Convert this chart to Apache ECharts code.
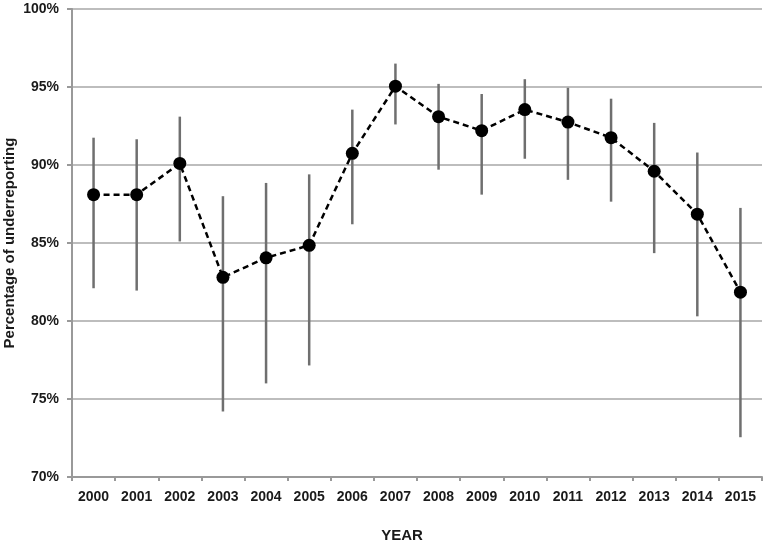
<!DOCTYPE html>
<html>
<head>
<meta charset="utf-8">
<script src="https://cdn.jsdelivr.net/npm/echarts@6/dist/echarts.min.js"></script>
<style>html,body{margin:0;padding:0;background:#fff}#c{width:767px;height:540px}</style>
</head>
<body>
<div id="c"></div>
<script>
var years = ['2000','2001','2002','2003','2004','2005','2006','2007','2008','2009','2010','2011','2012','2013','2014','2015'];
var values = [88.1, 88.1, 90.1, 82.8, 84.05, 84.85, 90.75, 95.05, 93.1, 92.2, 93.55, 92.75, 91.75, 89.6, 86.85, 81.85];
var upper = [91.75, 91.65, 93.1, 88.0, 88.85, 89.4, 93.55, 96.5, 95.2, 94.55, 95.5, 94.95, 94.25, 92.7, 90.8, 87.25];
var lower = [82.1, 81.95, 85.1, 74.2, 76.0, 77.15, 86.2, 92.6, 89.7, 88.1, 90.4, 89.05, 87.65, 84.35, 80.3, 72.55];
var yTicks = [70, 75, 80, 85, 90, 95, 100];

var FONT = '"Liberation Sans", Arial, Helvetica, sans-serif';
var chart = echarts.init(document.getElementById('c'));
var errData = years.map(function (y, i) { return [i, lower[i], upper[i]]; });

chart.setOption({
  animation: false,
  backgroundColor: '#ffffff',
  title: {
    text: 'YEAR',
    left: 397, top: 523, textAlign: 'center',
    textStyle: { fontFamily: FONT, fontSize: 15, fontWeight: 'bold', color: '#1a1a1a' }
  },
  grid: { left: 72, right: 5, top: 9, bottom: 63, containLabel: false, outerBoundsMode: 'none' },
  xAxis: {
    type: 'category',
    data: years,
    boundaryGap: true,
    axisLine: { lineStyle: { color: '#999', width: 2 } },
    axisTick: { show: true, length: 4, lineStyle: { color: '#999', width: 2 } },
    axisLabel: { margin: 13, fontFamily: FONT, fontSize: 14, fontWeight: 'bold', color: '#1a1a1a', interval: 0 },
    splitLine: { show: false }
  },
  yAxis: {
    type: 'value',
    min: yTicks[0], max: yTicks[yTicks.length - 1], interval: 5,
    name: 'Percentage of underreporting',
    nameLocation: 'middle',
    nameGap: 55,
    nameMoveOverlap: false,
    nameTextStyle: { fontFamily: FONT, fontSize: 15, fontWeight: 'bold', color: '#1a1a1a' },
    axisLine: { show: true, lineStyle: { color: '#999', width: 2 } },
    axisTick: { show: true, length: 5, lineStyle: { color: '#999', width: 2 } },
    axisLabel: { margin: 13, fontFamily: FONT, fontSize: 14, fontWeight: 'bold', color: '#1a1a1a',
      formatter: function (v) { return v + '%'; } },
    splitLine: { show: true, lineStyle: { color: '#bdbdbd', width: 2 } }
  },
  series: [
    {
      type: 'custom',
      data: errData,
      z: 2,
      renderItem: function (params, api) {
        var x = api.value(0);
        var p1 = api.coord([x, api.value(1)]);
        var p2 = api.coord([x, api.value(2)]);
        return {
          type: 'line',
          shape: { x1: p1[0], y1: p1[1], x2: p2[0], y2: p2[1] },
          style: { stroke: '#6f6f6f', lineWidth: 2.5 }
        };
      }
    },
    {
      type: 'line',
      data: values,
      z: 3,
      symbol: 'circle',
      symbolSize: 13,
      itemStyle: { color: '#000' },
      lineStyle: { color: '#000', width: 2.5, type: [6, 4] }
    }
  ]
});
</script>
</body>
</html>
